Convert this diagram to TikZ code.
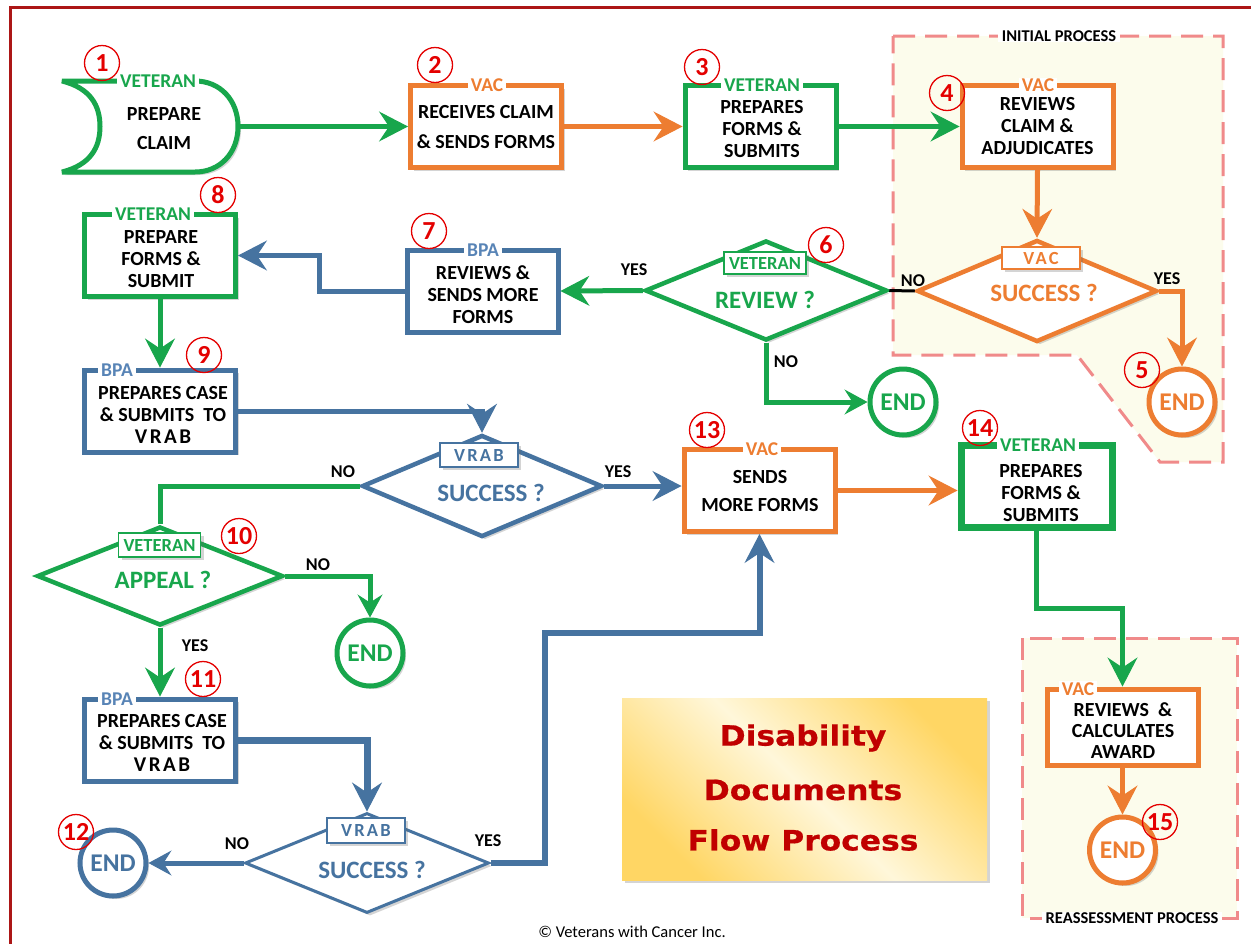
\documentclass[tikz,border=0pt]{standalone}
\usepackage{fontspec}
\setmainfont{Carlito}
\newfontfamily\spacedfont[LetterSpace=12]{Carlito}
\newfontfamily\titlefont[FakeStretch=1.12,FakeBold=0.6]{DejaVu Sans}
\usetikzlibrary{arrows.meta,shapes.geometric,shadows}
\definecolor{cgreen}{RGB}{24,166,76}
\definecolor{corange}{RGB}{237,125,49}
\definecolor{cblue}{RGB}{70,115,160}
\definecolor{cbluelab}{RGB}{88,132,182}
\definecolor{cred}{RGB}{228,0,0}
\definecolor{cborder}{RGB}{172,22,22}
\definecolor{cdash}{RGB}{240,138,138}
\definecolor{cregion}{RGB}{252,252,236}
\definecolor{ctitle}{RGB}{192,0,0}
\definecolor{gold}{RGB}{255,214,100}
\definecolor{cream}{RGB}{255,247,218}
\begin{document}
\begin{tikzpicture}[x=1pt,y=-1pt,
 shd/.style={drop shadow={opacity=0.28,shadow xshift=3pt,shadow yshift=-3pt,fill=black!60}},
 box/.style={draw,line width=5pt,fill=white,shd,minimum width=151pt,minimum height=82pt,inner sep=0pt},
 btxt/.style={inner sep=0pt,align=center,font=\fontsize{20}{22}\selectfont\bfseries},
 tlab/.style={fill=white,inner xsep=3pt,inner ysep=1.5pt,text depth=0pt,font=\fontsize{19.5}{20}\selectfont\bfseries},
 dia/.style={diamond,draw,line width=4.5pt,fill=white,shd,inner sep=0pt},
 dlab/.style={draw,line width=1.6pt,fill=white,shd,inner sep=0pt,minimum width=82pt,minimum height=22pt,font=\fontsize{18.5}{19}\selectfont\bfseries},
 dtxt/.style={inner sep=0pt,font=\fontsize{25}{25}\selectfont\bfseries},
 endc/.style={circle,draw,line width=5pt,fill=white,shd,minimum size=66pt,inner sep=0pt,font=\fontsize{25.5}{25}\selectfont\bfseries},
 num/.style={circle,draw=cred,line width=1.3pt,minimum size=35pt,inner sep=0pt,text=cred,font=\fontsize{26}{26}\selectfont\bfseries},
 yn/.style={inner sep=0pt,font=\fontsize{18}{18}\selectfont\bfseries},
 conn/.style={line width=5pt},
 arr/.style={-{Stealth[length=29pt,width=30pt,inset=10pt,line width=1pt]}},
 arrs/.style={-{Stealth[length=23pt,width=25pt,inset=8pt,line width=1pt]}},
 region/.style={draw=cdash,fill=cregion,line width=3pt,dash pattern=on 22pt off 10pt},
 rlab/.style={fill=white,inner xsep=4pt,inner ysep=1pt,text depth=0pt,font=\fontsize{16.5}{17}\selectfont\bfseries},
 ttl/.style={text=ctitle,inner sep=0pt,font=\titlefont\bfseries\fontsize{28}{28}\selectfont}
]
\useasboundingbox (0,0) rectangle (1251,943);
\fill[white] (0,0) rectangle (1251,943);
\draw[cborder,line width=3pt] (10,7) rectangle (1258,950);

% regions
\draw[region] (893,36) -- (1223,36) -- (1223,462) -- (1160,462) -- (1077,355) -- (893,355) -- cycle;
\node[rlab] (rl1) at (1059,36) {INITIAL PROCESS};
\draw[region] (1022,638) rectangle (1237,918);
\node[rlab] (rl2) at (1132,918) {REASSESSMENT PROCESS};

% title box
\node[shd,minimum width=365pt,minimum height=182pt,inner sep=0pt,shading=axis,top color=gold,bottom color=gold,middle color=cream,shading angle=-45] (tbox) at (804.5,789) {};
\node[ttl] (tt1) at (803,738) {Disability};
\node[ttl] (tt2) at (803,790) {Documents};
\node[ttl] (tt3) at (803,840) {Flow Process};
\node[inner sep=0pt,font=\fontsize{16.5}{17}\selectfont] (copy) at (632,932) {© Veterans with Cancer Inc.};

% node 1 (stored data shape)
\draw[cgreen,line width=5pt,fill=white,shd,miter limit=4] (62,81) -- (195,81) .. controls (220,81) and (238,100) .. (238,126.5) .. controls (238,153) and (220,172) .. (195,172) -- (62,172) .. controls (90,165) and (100,148) .. (100,126.5) .. controls (100,105) and (90,88) .. cycle;
\node[minimum width=176pt,minimum height=91pt,inner sep=0pt,outer sep=0pt] (n1) at (150,126.5) {};
\node[btxt] (t1) at (164,129) {PREPARE\\[7pt]CLAIM};
\node[tlab,text=cgreen] (l1) at (158,81) {VETERAN};

% boxes
\node[box,draw=corange] (b2) at (486,126.5) {};
\node[box,draw=cgreen] (b3) at (760.5,126.5) {};
\node[box,draw=corange] (b4) at (1037.5,126.5) {};
\node[box,draw=cblue] (b7) at (482.5,291) {};
\node[box,draw=cgreen] (b8) at (160,255.5) {};
\node[box,draw=cblue] (b9) at (160,411) {};
\node[box,draw=cblue] (b11) at (160,740) {};
\node[box,draw=corange] (b13) at (759.5,490.5) {};
\node[box,draw=cgreen,line width=7pt] (b14) at (1036.5,486.5) {};
\node[box,draw=corange,minimum height=76pt] (b15) at (1122.5,727) {};

% box texts
\node[btxt] (t2) at (486,127.5) {RECEIVES CLAIM\\[8pt]\& SENDS FORMS};
\node[btxt] (t3) at (762,129.5) {PREPARES\\FORMS \&\\SUBMITS};
\node[btxt] (t4) at (1037.5,126.5) {REVIEWS\\CLAIM \&\\ADJUDICATES};
\node[btxt] (t7) at (483,295) {REVIEWS \&\\SENDS MORE\\FORMS};
\node[btxt] (t8) at (161,259.5) {PREPARE\\FORMS \&\\SUBMIT};
\node[btxt] (t9) at (163,415) {PREPARES CASE\\\& SUBMITS\ \ TO\\{\spacedfont\bfseries\fontsize{21}{22}\selectfont VRAB}};
\node[btxt] (t11) at (162,742.5) {PREPARES CASE\\\& SUBMITS\ \ TO\\{\spacedfont\bfseries\fontsize{21}{22}\selectfont VRAB}};
\node[btxt] (t13) at (760,491) {SENDS\\[6pt]MORE FORMS};
\node[btxt] (t14) at (1041,493) {PREPARES\\FORMS \&\\SUBMITS};
\node[btxt,font=\fontsize{20}{21}\selectfont\bfseries] (t15) at (1123,731) {REVIEWS\ \ \&\\CALCULATES\\AWARD};

% box labels
\node[tlab,text=corange] (l2) at (487,85.5) {VAC};
\node[tlab,text=cgreen] (l3) at (762,85.5) {VETERAN};
\node[tlab,text=corange] (l4) at (1038,85.5) {VAC};
\node[tlab,text=cbluelab] (l7) at (483,250) {BPA};
\node[tlab,text=cgreen] (l8) at (153,214.5) {VETERAN};
\node[tlab,text=cbluelab] (l9) at (117,370) {BPA};
\node[tlab,text=cbluelab] (l11) at (117,699) {BPA};
\node[tlab,text=corange] (l13) at (762,449.5) {VAC};
\node[tlab,text=cgreen] (l14) at (1038,445.5) {VETERAN};
\node[tlab,text=corange] (l15) at (1078,689) {VAC};

% diamonds
\node[dia,draw=cgreen,minimum width=242pt,minimum height=100pt] (d6) at (766,290.5) {};
\node[dia,draw=corange,minimum width=240pt,minimum height=102pt] (dvac) at (1037,291) {};
\node[dia,draw=cblue,minimum width=240pt,minimum height=102pt] (dvr1) at (482,486) {};
\node[dia,draw=cgreen,minimum width=246pt,minimum height=99pt] (dap) at (160,576) {};
\node[dia,draw=cblue,line width=3pt,minimum width=244pt,minimum height=100pt] (dvr2) at (367,863) {};

\node[dlab,draw=cgreen,text=cgreen] (k6) at (765,263) {VETERAN};
\node[dlab,draw=corange,text=corange,minimum width=78pt] (kvac) at (1041,258) {\spacedfont\bfseries VAC};
\node[dlab,draw=cblue,text=cblue,minimum width=78pt,minimum height=24pt] (kvr1) at (479,455) {\spacedfont\bfseries VRAB};
\node[dlab,draw=cgreen,text=cgreen,minimum height=24pt] (kap) at (159.5,545) {VETERAN};
\node[dlab,draw=cblue,text=cblue,minimum width=78pt,minimum height=25pt] (kvr2) at (366,830.5) {\spacedfont\bfseries VRAB};

\node[dtxt,text=cgreen] (x6) at (765,300) {REVIEW ?};
\node[dtxt,text=corange] (xvac) at (1044,293) {SUCCESS ?};
\node[dtxt,text=cblue] (xvr1) at (491,493) {SUCCESS ?};
\node[dtxt,text=cgreen] (xap) at (163,580) {APPEAL ?};
\node[dtxt,text=cblue] (xvr2) at (372,870) {SUCCESS ?};

% end circles
\node[endc,draw=corange,text=corange] (end5) at (1182,402) {END};
\node[endc,draw=cgreen,text=cgreen] (end6) at (903,402) {END};
\node[endc,draw=cgreen,text=cgreen] (end10) at (370,653) {END};
\node[endc,draw=cblue,text=cblue] (end12) at (113,863) {END};
\node[endc,draw=corange,text=corange] (end15) at (1122.5,850) {END};

% connectors
\coordinate (k13) at (759.5,633);
\draw[conn,cgreen,arr] (n1.east) -- (b2.west);
\draw[conn,corange,arr] (b2.east) -- (b3.west);
\draw[conn,cgreen,arr] (b3.east) -- (b4.west);
\draw[conn,corange,arr] (b4.south) -- (dvac.north);
\draw[black,line width=3pt] (d6.east) -- (dvac.west);
\draw[conn,corange,arr] (dvac.east) -| (end5.north);
\draw[conn,cgreen,arr] (d6.west) -- (b7.east);
\draw[conn,cgreen,arrs] (d6.south) |- (end6.west);
\draw[conn,cblue,arr] (b7.west) -- ++(-85,0) |- (b8.east);
\draw[conn,cgreen,arr] (b8.south) -- (b9.north);
\draw[conn,cblue,arr] (b9.east) -| (dvr1.north);
\draw[conn,cgreen] (dvr1.west) -| (dap.north);
\draw[conn,cblue,arr] (dvr1.east) -- (dvr1.east -| b13.west);
\draw[conn,cgreen,arrs] (dap.east) -| (end10.north);
\draw[conn,cgreen,arr] (dap.south) -- (b11.north);
\draw[line width=7pt,cblue,arr] (b11.east) -| (dvr2.north);
\draw[conn,cblue,arrs] (dvr2.west) -- (end12.east);
\draw[line width=6pt,cblue,arr] (dvr2.east) -- ++(54,0) |- (k13) -- (b13.south);
\draw[conn,corange,arr] (b13.east) -- (b13.east -| b14.west);
\draw[conn,cgreen,arr] (b14.south) -- ++(0,77) -| (b15.north);
\draw[conn,corange,arr] (b15.south) -- (end15.north);

% yes/no labels
\node[yn] (y6) at (634,270) {YES};
\node[yn] (nvac) at (913,281) {NO};
\node[yn] (yvac) at (1167,279) {YES};
\node[yn] (n6) at (786,362) {NO};
\node[yn] (nvr1) at (343,472) {NO};
\node[yn] (yvr1) at (618,472) {YES};
\node[yn] (nap) at (318,565) {NO};
\node[yn] (yap) at (195,646) {YES};
\node[yn] (nvr2) at (237,844) {NO};
\node[yn] (yvr2) at (488,841) {YES};

% step numbers
\node[num] (c1) at (102,63) {1};
\node[num] (c2) at (435,65) {2};
\node[num] (c3) at (702,67) {3};
\node[num] (c4) at (947,93) {4};
\node[num] (c5) at (1142,370) {5};
\node[num] (c6) at (826,245) {6};
\node[num] (c7) at (429,231) {7};
\node[num] (c8) at (218,195) {8};
\node[num] (c9) at (204,355) {9};
\node[num] (c10) at (239,536) {10};
\node[num] (c11) at (203,679) {11};
\node[num] (c12) at (76,832) {12};
\node[num] (c13) at (707,430) {13};
\node[num] (c14) at (980,428) {14};
\node[num] (c15) at (1160,822) {15};
\end{tikzpicture}
\end{document}
